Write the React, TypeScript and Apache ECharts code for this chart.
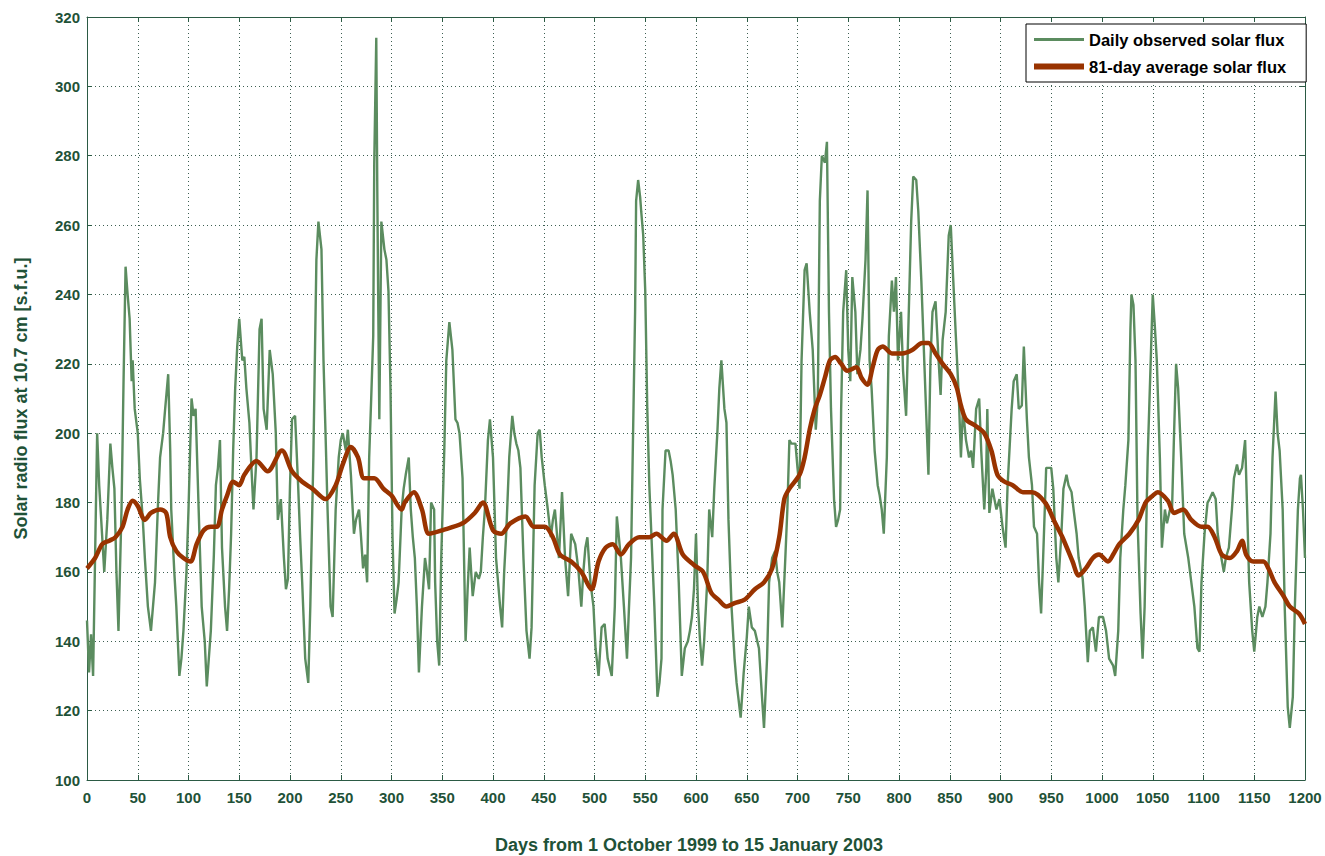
import React, { useEffect, useRef } from "react";
import * as echarts from "echarts";

const dailyDays = [0,2,4,6,8,10,12,14,17,20,23,25,27,29,31,34,36,38,40,42,44,45,47,50,52,55,57,60,63,65,67,70,72,75,77,80,82,83,86,88,91,93,95,98,100,103,105,107,110,113,116,118,120,122,125,127,129,131,133,136,138,140,142,144,146,148,150,153,155,157,160,162,164,167,170,172,174,177,180,183,186,188,191,194,196,198,200,202,205,208,210,212,215,218,220,223,226,228,231,233,235,237,240,242,245,248,250,252,255,257,260,263,265,268,270,272,274,276,278,280,282,283,285,286,287,288,290,293,295,297,299,301,303,305,307,310,312,314,317,319,321,323,325,327,330,333,335,337,339,342,343,345,347,349,352,354,357,360,363,365,367,370,373,375,377,380,383,386,388,390,392,395,397,400,403,405,407,409,411,413,416,419,421,423,425,427,430,433,436,438,441,444,446,448,451,454,457,459,461,465,468,471,474,477,481,484,487,489,491,493,496,499,501,504,507,510,513,517,520,522,524,526,529,532,534,536,538,540,541,543,545,546,548,550,552,554,556,559,562,564,566,567,570,573,575,577,580,583,586,589,592,594,596,598,600,602,604,606,608,611,613,616,618,621,623,625,628,630,632,635,638,640,642,644,647,650,652,655,658,662,665,667,670,672,675,678,680,682,685,688,690,692,694,696,698,700,702,704,707,709,712,715,718,720,722,724,727,729,731,733,736,738,740,742,743,745,748,750,752,754,757,759,762,764,767,769,771,773,776,779,781,783,785,788,790,793,795,797,799,802,804,807,809,812,814,817,819,822,824,827,829,831,833,836,839,841,843,846,849,851,853,856,859,861,863,866,869,871,873,876,879,881,884,886,887,889,892,896,899,902,905,907,911,913,916,918,921,923,926,928,931,933,936,938,940,942,945,947,950,952,955,957,960,962,965,967,970,972,975,977,981,983,986,988,991,994,997,1001,1004,1007,1011,1013,1016,1018,1021,1023,1026,1028,1029,1031,1033,1035,1038,1040,1042,1045,1048,1050,1052,1054,1057,1059,1062,1064,1067,1069,1071,1073,1075,1078,1081,1085,1088,1091,1094,1096,1098,1101,1104,1106,1109,1112,1114,1117,1120,1122,1125,1128,1130,1133,1135,1138,1141,1143,1145,1148,1150,1153,1155,1158,1161,1163,1166,1168,1171,1173,1175,1178,1180,1183,1185,1188,1190,1193,1195,1196,1198,1200];
const dailyFlux = [146,131,142,130,165,200,185,175,160,175,197,190,184,160,143,178,215,248,240,233,215,221,207,200,187,175,164,150,143,150,157,180,193,200,207,217,195,178,160,150,130,135,143,160,178,210,205,207,178,150,140,127,135,143,165,185,190,198,167,150,143,155,171,195,213,225,233,221,222,213,203,190,178,193,230,233,207,201,224,217,200,175,181,164,155,158,185,204,205,185,170,157,135,128,150,193,250,261,253,221,200,178,150,147,178,193,198,200,195,201,188,171,175,178,170,161,165,157,193,210,228,278,314,270,235,204,261,253,250,241,213,170,148,152,157,178,184,188,193,178,170,164,150,131,150,164,160,155,180,178,157,140,133,164,195,221,232,224,204,203,200,187,140,155,167,153,160,158,160,170,178,198,204,193,164,157,150,144,160,171,193,205,200,197,195,190,164,143,135,144,185,200,201,193,185,178,170,175,178,164,183,164,153,171,168,161,150,160,167,170,157,150,138,130,144,145,135,130,150,176,170,164,150,135,150,164,200,235,267,273,268,264,257,241,207,185,171,150,124,128,135,178,195,195,192,188,178,157,130,138,140,143,147,155,171,150,140,133,140,157,178,170,184,200,213,221,207,203,175,150,135,128,123,118,131,141,150,144,143,138,124,115,135,157,164,166,160,157,144,164,178,198,197,197,197,190,184,221,247,249,235,224,201,210,267,280,278,284,235,207,181,173,175,178,207,235,247,224,215,245,235,217,224,233,250,270,221,213,195,185,182,178,171,193,228,244,235,245,221,235,218,205,228,261,274,273,264,244,228,204,188,221,235,238,221,211,227,235,257,260,247,228,210,193,207,198,193,195,190,207,210,195,178,190,207,177,184,178,181,173,167,185,207,215,217,207,208,225,204,193,185,173,171,157,148,164,190,190,190,184,164,157,171,184,188,185,183,178,171,164,158,150,134,143,144,137,147,147,143,135,133,130,143,164,178,185,198,230,240,237,221,175,148,135,150,193,221,240,231,221,193,167,178,174,178,178,200,220,213,193,171,164,157,150,138,137,157,171,180,181,183,181,171,165,160,164,167,178,187,191,188,190,198,178,157,143,137,147,150,147,150,157,171,193,212,200,195,178,150,121,115,124,150,178,187,188,178,164];

const avgDays = [0,8,15,22,28,35,40,45,50,57,63,72,78,82,88,95,102,108,115,122,128,133,138,144,150,155,167,178,192,202,212,222,235,245,252,260,267,273,283,292,300,310,313,322,330,337,350,370,382,390,400,408,417,432,440,451,459,466,477,487,497,504,511,518,526,534,544,554,561,571,578,587,598,607,615,622,630,638,648,658,667,675,682,687,692,702,707,712,717,722,727,732,737,743,749,758,763,769,774,779,784,793,803,813,823,829,836,843,851,857,861,866,876,884,891,897,904,912,922,931,944,954,961,971,977,984,991,997,1006,1011,1017,1027,1036,1043,1050,1055,1065,1071,1080,1088,1098,1104,1111,1118,1126,1133,1138,1142,1149,1159,1164,1170,1179,1185,1194,1200];
const avgFlux = [161,164,168,169,170,173,178,180.5,179,175,177,178,177,170,166,164,163,168,172,173,173,178,182,186,185,188,192,189,195,189,186,184,181,185,191,196,193,187,187,184,182,178,180,183,178,171,172,174,177,180,172,171,174,176,173,173,170,165,163,160,155,163,167,168,165,168,170,170,171,169,171,165,162,160,154,152,150,151,152,155,157,161,170,181,184,188,193,201,207,211,216,221,222,220,218,219,216,214,219,224,225,223,223,224,226,226,223,220,217,213,208,204,202,200,195,188,186,185,183,183,180,174,170,163,159,161,164,165,163,165,168,171,175,180,182,183,180.5,177,178,175,173,173,170,165,164,166,169,165,163,163,161,157,153,150,148,145];

const xTicks = [0, 1200, 50];
const yTicks = [100, 320, 20];

const AXIS = "#2b5a44";
const TXT = "#1f5238";
const GREEN = "#5b8c5f";
const RED = "#993300";
const FONT = "'Liberation Sans', Arial, sans-serif";

export default function App() {
  const ref = useRef<HTMLDivElement>(null);
  useEffect(() => {
    document.body.style.margin = "0";
    const chart = echarts.init(ref.current!, undefined, { renderer: "svg" });
    const daily = dailyDays.map((d, i) => [d, dailyFlux[i]]);
    const avg = avgDays.map((d, i) => [d, avgFlux[i]]);
    const splitLine = { show: true, lineStyle: { color: "#3d5f52", type: [1, 3], width: 1 } };
    const labelStyle = { color: TXT, fontFamily: FONT, fontWeight: "bold", fontSize: 15 };
    chart.setOption({
      animation: false,
      backgroundColor: "#ffffff",
      grid: { left: 87, right: 20, top: 17, bottom: 76, outerBoundsMode: "none", containLabel: false },
      legend: {
        orient: "vertical",
        left: 1026,
        top: 24,
        itemWidth: 50,
        itemHeight: 12,
        itemGap: 10,
        padding: [7, 20, 7, 8],
        symbolKeepAspect: true,
        backgroundColor: "#ffffff",
        borderColor: "#000000",
        borderWidth: 1,
        textStyle: { color: "#000", fontFamily: FONT, fontWeight: "bold", fontSize: 16.5 },
        data: [
          { name: "Daily observed solar flux", icon: "path://M0,0H50V3H0Z", itemStyle: { color: GREEN } },
          { name: "81-day average solar flux", icon: "path://M0,0H50V6H0Z", itemStyle: { color: RED } },
        ],
        itemStyle: { borderWidth: 0 },
      },
      xAxis: [
        {
          type: "value", min: xTicks[0], max: xTicks[1], interval: xTicks[2],
          name: "Days from 1 October 1999 to 15 January 2003",
          nameLocation: "middle", nameGap: 56,
          nameTextStyle: { ...labelStyle, fontSize: 18, padding: [0, 14, 0, 0] },
          axisLine: { show: true, onZero: false, lineStyle: { color: AXIS, width: 1 } },
          axisTick: { show: true, inside: true, length: 5, lineStyle: { color: AXIS } },
          axisLabel: { ...labelStyle, margin: 10, formatter: (v: number) => String(v) },
          splitLine,
        },
        {
          type: "value", position: "top", min: xTicks[0], max: xTicks[1], interval: xTicks[2],
          axisLine: { show: true, onZero: false, lineStyle: { color: AXIS, width: 1 } },
          axisTick: { show: true, inside: true, length: 5, lineStyle: { color: AXIS } },
          axisLabel: { show: false }, splitLine: { show: false },
        },
      ],
      yAxis: [
        {
          type: "value", min: yTicks[0], max: yTicks[1], interval: yTicks[2],
          name: "Solar radio flux at 10.7 cm [s.f.u.]",
          nameLocation: "middle", nameGap: 57, nameRotate: 90,
          nameTextStyle: { ...labelStyle, fontSize: 18 },
          axisLine: { show: true, onZero: false, lineStyle: { color: AXIS, width: 1 } },
          axisTick: { show: true, inside: true, length: 5, lineStyle: { color: AXIS } },
          axisLabel: { ...labelStyle, margin: 7 },
          splitLine,
        },
        {
          type: "value", position: "right", min: yTicks[0], max: yTicks[1], interval: yTicks[2],
          axisLine: { show: true, onZero: false, lineStyle: { color: AXIS, width: 1 } },
          axisTick: { show: true, inside: true, length: 5, lineStyle: { color: AXIS } },
          axisLabel: { show: false }, splitLine: { show: false },
        },
      ],
      series: [
        {
          name: "Daily observed solar flux", type: "line", data: daily,
          symbol: "none", color: GREEN,
          lineStyle: { color: GREEN, width: 2.4 }, z: 2,
        },
        {
          name: "81-day average solar flux", type: "line", data: avg,
          symbol: "none", smooth: 0.3, color: RED,
          lineStyle: { color: RED, width: 4.5 }, z: 3,
        },
      ],
    });
    return () => chart.dispose();
  }, []);
  return <div ref={ref} style={{ width: 1325, height: 856 }} />;
}
